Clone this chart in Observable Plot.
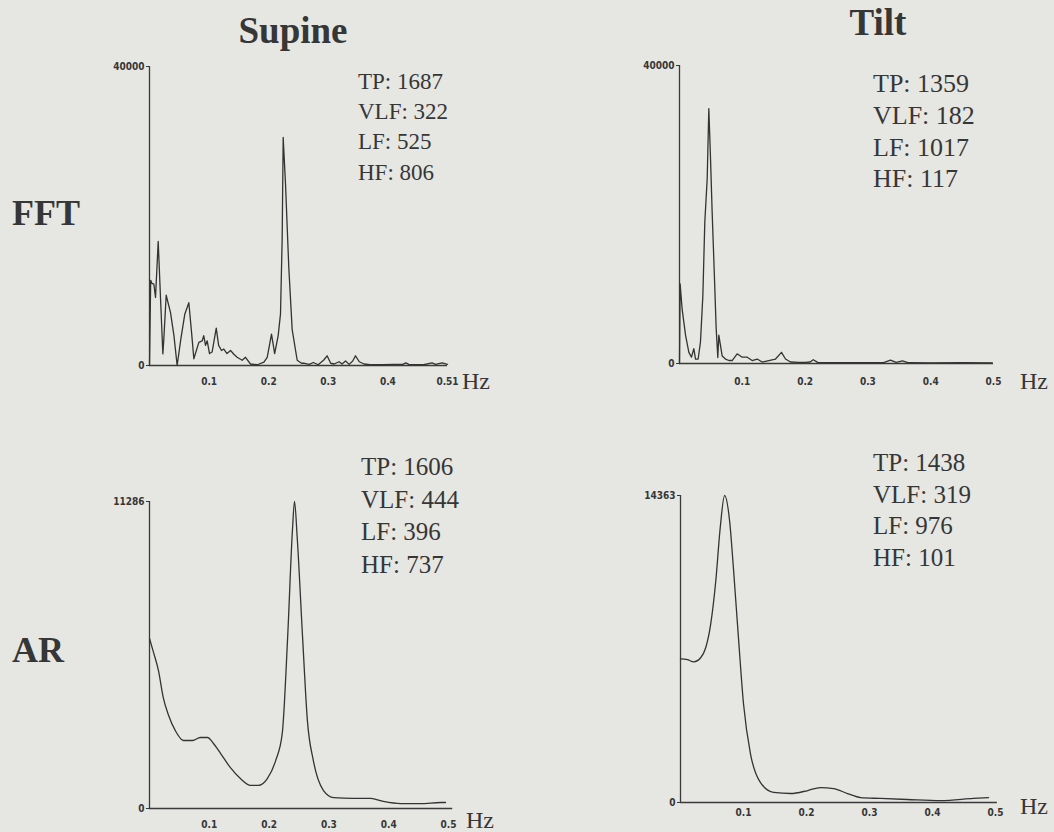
<!DOCTYPE html>
<html>
<head>
<meta charset="utf-8">
<script src="https://cdn.jsdelivr.net/npm/d3@7"></script>
<script src="https://cdn.jsdelivr.net/npm/@observablehq/plot@0.6"></script>
<style>
  body { margin: 0; background: #e6e6e2; }
  #root { position: relative; width: 1054px; height: 832px; overflow: hidden; background: #e6e6e2;
          font-family: "Liberation Serif", "Times New Roman", serif; color: #363636; }
  .txt { position: absolute; white-space: nowrap; line-height: 1; }
  .head { font-weight: bold; }
</style>
</head>
<body>
<div id="root"></div>
<script>
// ---------------- data ----------------
const columnTitles = ["Supine", "Tilt"];
const rowTitles = ["FFT", "AR"];
const statNames = ["TP", "VLF", "LF", "HF"];
const fftSupineStats = [1687, 322, 525, 806];
const fftTiltStats = [1359, 182, 1017, 117];
const arSupineStats = [1606, 444, 396, 737];
const arTiltStats = [1438, 319, 976, 101];

const xTickValues = [0.1, 0.2, 0.3, 0.4, 0.5];
const xTickLabels = ["0.1", "0.2", "0.3", "0.4", "0.5"];
const fftSupineXTickLabels = ["0.1", "0.2", "0.3", "0.4", "0.51"];
const unitLabel = "Hz";

const fftYMax = 40000;
const arSupineYMax = 11286;
const arTiltYMax = 14363;

// FFT, supine
const fftSupineFreq = [0,0.002,0.004,0.0073,0.0101,0.0146,0.0185,0.0224,0.024,0.028,0.0352,0.041,0.0464,0.0525,0.0593,0.066,0.0705,0.0744,0.0828,0.0884,0.091,0.094,0.0968,0.1007,0.105,0.112,0.116,0.1208,0.1247,0.130,0.136,0.1415,0.147,0.1555,0.161,0.1695,0.181,0.192,0.1975,0.2047,0.210,0.2159,0.2198,0.2226,0.2243,0.2282,0.2337,0.2394,0.2478,0.255,0.26,0.268,0.275,0.283,0.292,0.298,0.304,0.31,0.318,0.323,0.329,0.335,0.341,0.3456,0.352,0.36,0.37,0.39,0.41,0.425,0.43,0.435,0.46,0.474,0.48,0.491,0.5];
const fftSupinePower = [0,11400,11000,10900,9100,16600,9000,1560,3500,9400,7100,4000,0,3500,6900,8400,4500,900,3100,3300,4000,2700,3300,1600,1800,5000,2700,2000,2200,1600,2000,1500,1100,700,1100,200,100,450,1100,4200,1600,4000,6900,17000,30500,24300,13150,4800,700,300,300,150,400,100,700,1300,300,200,500,200,600,150,600,1300,500,200,100,100,150,150,350,150,100,350,150,350,150];

// FFT, tilt
const fftTiltFreq = [0,0.001,0.0025,0.0042,0.0096,0.0149,0.0191,0.0228,0.0255,0.0297,0.0334,0.0372,0.0403,0.0441,0.0467,0.0494,0.052,0.0557,0.0584,0.061,0.0626,0.0653,0.068,0.0732,0.0786,0.0839,0.0918,0.0998,0.1078,0.1157,0.1237,0.1316,0.1422,0.1529,0.1624,0.1688,0.1768,0.19,0.2,0.208,0.213,0.22,0.25,0.3,0.325,0.336,0.345,0.355,0.365,0.4,0.45,0.498];
const fftTiltPower = [0,10700,9100,7300,3800,1500,850,2000,600,600,2900,9100,19000,24800,34200,27500,20300,11400,4700,800,3800,2400,1000,600,400,400,1300,850,850,400,600,200,400,600,1500,600,200,150,150,200,500,150,100,100,120,450,150,350,100,80,100,80];

// AR, supine
const arSupineFreq = [0,0.0067,0.015,0.023,0.032,0.043,0.057,0.072,0.085,0.097,0.107,0.119,0.135,0.152,0.169,0.182,0.197,0.211,0.222,0.231,0.239,0.2425,0.247,0.256,0.264,0.274,0.291,0.308,0.341,0.37,0.391,0.42,0.453,0.487,0.495];
const arSupinePower = [6250,5740,5070,4080,3420,2870,2500,2500,2610,2610,2390,2020,1510,1100,850,850,1100,1760,2760,6290,10220,11286,9960,6290,3240,1760,660,400,370,370,260,180,180,220,220];

// AR, tilt
const arTiltFreq = [0,0.011,0.021,0.032,0.04,0.048,0.056,0.063,0.07,0.078,0.084,0.092,0.1,0.111,0.127,0.148,0.175,0.202,0.222,0.243,0.265,0.286,0.317,0.36,0.413,0.465,0.489];
const arTiltPower = [6720,6680,6580,6770,7240,8360,10360,12840,14363,13160,10970,7700,4620,2290,930,470,420,560,700,650,420,230,190,140,90,190,230];

// ---------------- layout ----------------
const root = document.getElementById("root");
const tickFont = '"Liberation Sans Narrow", "Arial Narrow", "DejaVu Sans Condensed", "Liberation Sans", sans-serif';
const ink = "#363636";

function addText(str, x, baseline, size, opts = {}) {
  const d = document.createElement("div");
  d.className = "txt" + (opts.bold ? " head" : "");
  d.textContent = str;
  d.style.fontSize = size + "px";
  d.style.top = (baseline - 0.8375 * size) + "px";
  d.style.left = x + "px";
  if (opts.center) d.style.transform = "translateX(-50%)";
  root.appendChild(d);
}

const panels = [
  { freq: fftSupineFreq, power: fftSupinePower, ymax: fftYMax, xLabels: fftSupineXTickLabels,
    frame: [149, 447, 66, 365], xEnd: 0.5, tickPad: 12, curve: "linear",
    stats: fftSupineStats, statPos: [358, 89, 30.3, 23], hz: [462, 381] },
  { freq: fftTiltFreq, power: fftTiltPower, ymax: fftYMax, xLabels: xTickLabels,
    frame: [679, 993, 65, 363], xEnd: 0.5, tickPad: 14, curve: "linear",
    stats: fftTiltStats, statPos: [873, 93, 31.7, 26], hz: [1020, 381] },
  { freq: arSupineFreq, power: arSupinePower, ymax: arSupineYMax, xLabels: xTickLabels,
    frame: [149, 448, 501, 808], xEnd: 0.507, tickPad: 12, curve: "monotone-x",
    stats: arSupineStats, statPos: [361, 475, 32.5, 25], hz: [466, 820] },
  { freq: arTiltFreq, power: arTiltPower, ymax: arTiltYMax, xLabels: xTickLabels,
    frame: [680, 995, 495, 802], xEnd: 0.503, tickPad: 6, curve: "monotone-x",
    stats: arTiltStats, statPos: [873, 471, 31.5, 25], hz: [1020, 806] }
];

const ml = 55, mr = 10, mt = 8, mb = 30;

for (const p of panels) {
  const [L, R, T, B] = p.frame;
  const data = p.freq.map((f, i) => ({ f, power: p.power[i] }));
  const labelMap = new Map(xTickValues.map((v, i) => [v, p.xLabels[i]]));
  const chart = Plot.plot({
    width: R - L + ml + mr,
    height: B - T + mt + mb,
    marginLeft: ml, marginRight: mr, marginTop: mt, marginBottom: mb,
    style: { background: "transparent", color: ink, fontFamily: tickFont, fontSize: "10px",
             fontWeight: "bold", overflow: "visible" },
    x: { domain: [0, 0.5] },
    y: { domain: [0, p.ymax] },
    marks: [
      Plot.ruleX([0], { y1: 0, y2: p.ymax, stroke: "#3a3a3a", strokeWidth: 1.3 }),
      Plot.ruleY([0], { x1: 0, x2: p.xEnd, stroke: "#3a3a3a", strokeWidth: 1.3 }),
      Plot.axisY({ ticks: [0, p.ymax], tickFormat: d => (d === 0 ? "0" : String(p.ymax)),
                   tickSize: 3, tickPadding: 2, label: null }),
      Plot.axisX({ ticks: xTickValues, tickFormat: d => labelMap.get(d), tickSize: 0,
                   tickPadding: p.tickPad, label: null }),
      Plot.lineY(data, { x: "f", y: "power", stroke: "#333", strokeWidth: 1.3, curve: p.curve })
    ]
  });
  chart.style.position = "absolute";
  chart.style.left = (L - ml) + "px";
  chart.style.top = (T - mt) + "px";
  root.appendChild(chart);

  const [sx, sy, step, size] = p.statPos;
  p.stats.forEach((v, i) => addText(statNames[i] + ": " + v, sx, sy + i * step, size));
  addText(unitLabel, p.hz[0], p.hz[1] + 0.33 * 24, 24);
}

// headings
addText(columnTitles[0], 293, 43, 37, { bold: true, center: true });
addText(columnTitles[1], 878, 35, 37, { bold: true, center: true });
addText(rowTitles[0], 12, 225, 36, { bold: true });
addText(rowTitles[1], 12, 662, 36, { bold: true });
</script>
</body>
</html>
